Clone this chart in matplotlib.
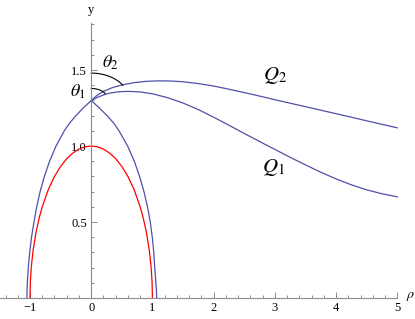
import numpy as np
import matplotlib
matplotlib.use("Agg")
from matplotlib import pyplot as plt

plt.rcParams['font.family'] = ['Liberation Serif', 'DejaVu Serif']
plt.rcParams['mathtext.fontset'] = 'stix'

# red curve (unit circle part)
red_x = [-1.0, -0.995, -0.98, -0.95, -0.9, -0.85, -0.8, -0.7, -0.6, -0.5, -0.4, -0.3, -0.2, -0.1, 0.0,
         0.1, 0.2, 0.3, 0.4, 0.5, 0.6, 0.7, 0.8, 0.85, 0.9, 0.95, 0.98, 0.995, 1.0]
red_y = [0.0, 0.1, 0.199, 0.312, 0.436, 0.527, 0.6, 0.714, 0.8, 0.866, 0.917, 0.954, 0.98, 0.995, 1.0,
         0.995, 0.98, 0.954, 0.917, 0.866, 0.8, 0.714, 0.6, 0.527, 0.436, 0.312, 0.199, 0.1, 0.0]

# blue closed curve, left and right branches (read bottom to top / top to bottom)
left_x = [-1.05, -1.048, -1.043, -1.028, -1.005, -0.975, -0.935, -0.89, -0.835, -0.765, -0.68, -0.575,
          -0.44, -0.355, -0.25, -0.13, 0.0]
left_y = [0.0, 0.05, 0.1, 0.2, 0.3, 0.4, 0.5, 0.6, 0.7, 0.8, 0.9, 1.0,
          1.1, 1.15, 1.2, 1.25, 1.3]
right_x = [0.0, 0.135, 0.26, 0.37, 0.455, 0.595, 0.705, 0.79, 0.862, 0.92, 0.965, 0.998, 1.022, 1.038,
           1.066, 1.070]
right_y = [1.3, 1.25, 1.2, 1.15, 1.1, 1.0, 0.9, 0.8, 0.7, 0.6, 0.5, 0.4, 0.3, 0.2,
           0.05, 0.0]

# Q1 and Q2
q1_x = [0.0, 0.1, 0.2, 0.3, 0.45, 0.6, 0.8, 1.0, 1.25, 1.5, 1.75, 2.0, 2.25, 2.5, 2.75, 3.0,
        3.25, 3.5, 3.75, 4.0, 4.25, 4.5, 4.75, 5.0]
q1_y = [1.30, 1.320, 1.336, 1.348, 1.357, 1.360, 1.356, 1.344, 1.318, 1.283, 1.240, 1.190, 1.137,
        1.083, 1.030, 0.978, 0.926, 0.876, 0.828, 0.784, 0.745, 0.712, 0.686, 0.666]
q2_x = [0.0, 0.1, 0.2, 0.35, 0.5, 0.7, 0.9, 1.1, 1.3, 1.5, 1.75, 2.0, 2.25, 2.5, 2.75, 3.0,
        3.25, 3.5, 3.75, 4.0, 4.25, 4.5, 4.75, 5.0]
q2_y = [1.30, 1.335, 1.360, 1.385, 1.402, 1.417, 1.426, 1.429, 1.428, 1.423, 1.411, 1.395, 1.374,
        1.352, 1.329, 1.305, 1.282, 1.259, 1.236, 1.213, 1.190, 1.166, 1.143, 1.120]

x_ticks = [-1, 0, 1, 2, 3, 4, 5]
x_labels = ['\u22121', '0', '1', '2', '3', '4', '5']
y_ticks = [0.5, 1.0, 1.5]
y_labels = ['0.5', '1.0', '1.5']

blue = '#5050aa'
gray = '#8c8c8c'

fig = plt.figure(figsize=(4.15, 3.19), dpi=100)
ax = fig.add_axes([0, 0, 1, 1])
ax.set_xlim(-1.49, 5.29)
ax.set_ylim(-0.138, 1.961)

ax.plot(red_x, red_y, color='red', lw=0.9)
ax.plot(left_x, left_y, color=blue, lw=0.9)
ax.plot(right_x, right_y, color=blue, lw=0.9)
ax.plot(q1_x, q1_y, color=blue, lw=0.9)
ax.plot(q2_x, q2_y, color=blue, lw=0.9)

# angle arcs at the meeting point
t = np.linspace(np.radians(35.6), np.pi / 2, 40)
ax.plot(0.282 * np.cos(t), 1.30 + 0.079 * np.sin(t), color='black', lw=0.8)
t = np.linspace(np.radians(33.8), np.pi / 2, 40)
ax.plot(0.622 * np.cos(t), 1.30 + 0.18 * np.sin(t), color='black', lw=0.8)

ax.text(0.305, 1.546, r'$\theta_2$', fontsize=13, ha='center', va='center')
ax.text(-0.216, 1.355, r'$\theta_1$', fontsize=13, ha='center', va='center')
ax.text(3.0, 1.467, r'$Q_2$', fontsize=15, ha='center', va='center')
ax.text(2.98, 0.862, r'$Q_1$', fontsize=15, ha='center', va='center')
ax.text(0.0, 1.895, 'y', fontsize=9, ha='center', va='center')
ax.text(5.22, 0.01, r'$\rho$', fontsize=10, ha='center', va='center')

for s in ['top', 'right']:
    ax.spines[s].set_visible(False)
ax.spines['left'].set_position(('data', 0))
ax.spines['bottom'].set_position(('data', 0))
ax.spines['left'].set_bounds(0, 1.81)
ax.spines['bottom'].set_bounds(-1.49, 5.0)
for s in ['left', 'bottom']:
    ax.spines[s].set_color(gray)
    ax.spines[s].set_linewidth(0.8)

ax.set_xticks(x_ticks)
ax.set_xticklabels(x_labels)
ax.set_xticks(np.arange(-1.4, 5.01, 0.2), minor=True)
ax.set_yticks(y_ticks)
ax.set_yticklabels(y_labels)
ax.set_yticks(np.arange(0.1, 1.81, 0.1), minor=True)
ax.tick_params(which='both', direction='in', color=gray, width=0.7, labelsize=9, pad=3)
ax.tick_params(which='major', length=4)
ax.tick_params(which='minor', length=2)

fig.savefig('out.png', dpi=100)
